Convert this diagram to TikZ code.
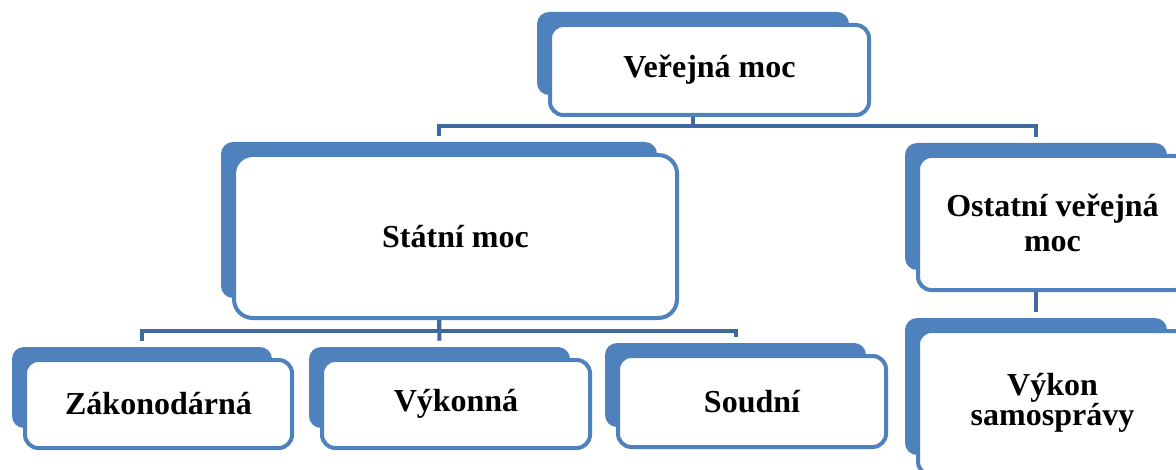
\documentclass[tikz,border=0pt]{standalone}
\usepackage{fontspec}
\setmainfont{Liberation Serif}
\usetikzlibrary{backgrounds}
\definecolor{boxblue}{RGB}{79,129,189}
\definecolor{linkblue}{RGB}{65,105,160}

\begin{document}
\begin{tikzpicture}[x=0.75pt,y=-0.75pt,
        back/.style={rectangle,rounded corners=9pt,fill=boxblue,inner sep=0pt},
        front/.style={rectangle,rounded corners=10pt,draw=boxblue,line width=3pt,fill=white,inner sep=0pt,align=center,font=\bfseries\fontsize{24}{26}\selectfont},
        link/.style={draw=linkblue,line width=3pt}]
        \useasboundingbox (0,0) rectangle (1176,470);
        % shadow boxes
        \node[back,minimum width=234pt,minimum height=62.25pt] (ver) at (693,53.5) {};
        \node[back,minimum width=327pt,minimum height=117pt] (stat) at (439,220) {};
        \node[back,minimum width=196.5pt,minimum height=95.25pt] (ost) at (1036,206.5) {};
        \node[back,minimum width=195pt,minimum height=60.75pt] (zak) at (142,387.5) {};
        \node[back,minimum width=195.75pt,minimum height=60.75pt] (vyk) at (439.5,387.5) {};
        \node[back,minimum width=195.75pt,minimum height=63pt] (soud) at (735.5,385) {};
        \node[back,minimum width=196.5pt,minimum height=102.75pt] (sam) at (1036,386.5) {};
        % white boxes
        \node[front,minimum width=239.25pt,minimum height=67.5pt] (verf) at (709.5,70) {Veřejná moc};
        \node[front,rounded corners=14pt,minimum width=332.25pt,minimum height=122.25pt] (statf) at (455.5,236.5) {Státní moc};
        \node[front,minimum width=201.75pt,minimum height=100.5pt] (ostf) at (1052.5,223) {Ostatní veřejná\\moc};
        \node[front,minimum width=200.25pt,minimum height=66pt] (zakf) at (158.5,404) {Zákonodárná};
        \node[front,minimum width=201pt,minimum height=66pt] (vykf) at (456,404) {Výkonná};
        \node[front,minimum width=201pt,minimum height=68.25pt] (soudf) at (752,401.5) {Soudní};
        \node[front,font=\bfseries\fontsize{24}{22.5}\selectfont,minimum width=201.75pt,minimum height=108pt] (samf) at (1052.5,403) {Výkon\\samosprávy};
        % connectors
        \begin{pgfonlayer}{background}
            \draw[link] (ver.south) -- ++(0,31) -| ([yshift=4.5pt]stat.north);
            \draw[link] (ver.south) -- ++(0,31) -| ([yshift=4.5pt]ost.north);
            \draw[link] (stat.south) -- ++(0,33) -| ([yshift=4.5pt]zak.north);
            \draw[link] (stat.south) -- ([yshift=4.5pt]vyk.north);
            \draw[link] (stat.south) -- ++(0,33) -| ([yshift=4.5pt]soud.north);
            \draw[link] (ost.south) -- ([yshift=4.5pt]sam.north);
        \end{pgfonlayer}
    \end{tikzpicture}
\end{document}
